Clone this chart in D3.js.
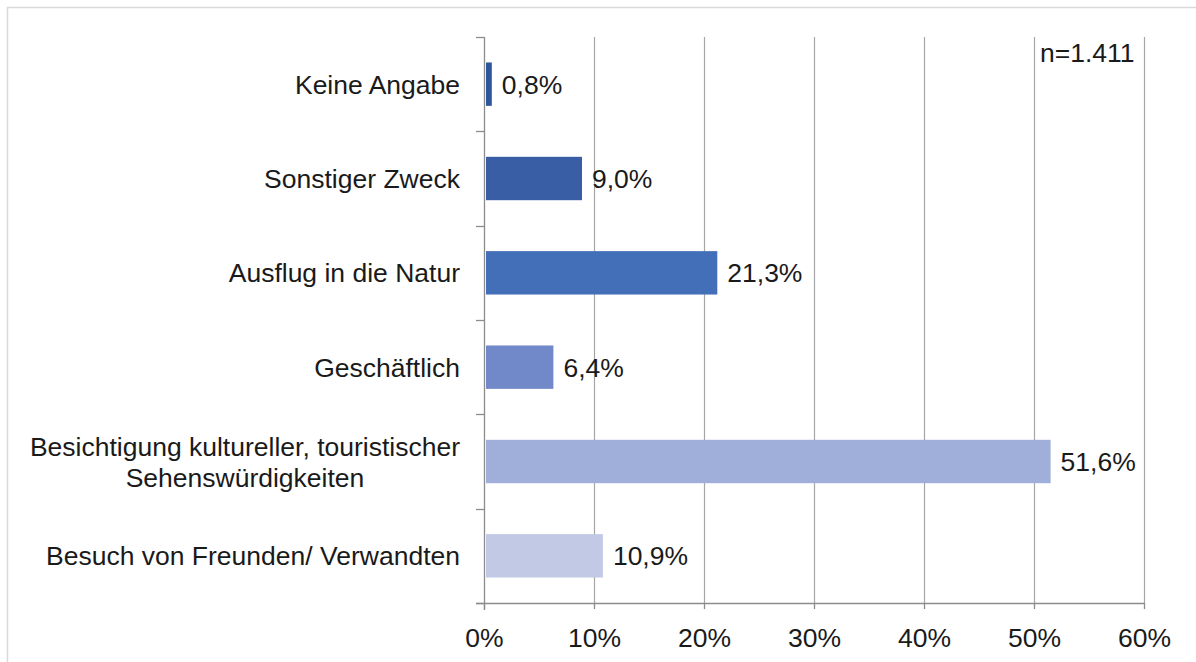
<!DOCTYPE html>
<html>
<head>
<meta charset="utf-8">
<script src="https://cdn.jsdelivr.net/npm/d3@7"></script>
<style>
  body { margin: 0; background: #fff; }
  text { font-family: "Liberation Sans", Arial, sans-serif; fill: #1a1a1a; }
</style>
</head>
<body>
<div id="chart"></div>
<script>
// categories, top to bottom
var categories = [
  ["Keine Angabe"],
  ["Sonstiger Zweck"],
  ["Ausflug in die Natur"],
  ["Geschäftlich"],
  ["Besichtigung kultureller, touristischer", "Sehenswürdigkeiten"],
  ["Besuch von Freunden/ Verwandten"]
];
var values = [0.8, 9.0, 21.3, 6.4, 51.6, 10.9];
var valueLabels = ["0,8%", "9,0%", "21,3%", "6,4%", "51,6%", "10,9%"];
var barColors = ["#2f559b", "#3a5ea6", "#426fb7", "#7189c8", "#a0afd9", "#c2c9e5"];
var xTicks = [0, 10, 20, 30, 40, 50, 60];
var note = "n=1.411";

var fontSize = "26.5px";
var svgWidth = 1196, svgHeight = 662;
var margin = { top: 37, right: 52, bottom: 59, left: 484 };
var chartWidth = svgWidth - margin.left - margin.right;
var chartHeight = svgHeight - margin.top - margin.bottom;

var svg = d3.select("#chart").append("svg")
  .attr("width", svgWidth)
  .attr("height", svgHeight);

// outer frame
svg.append("path")
  .attr("d", "M7.5,662 V7.5 H1196")
  .attr("fill", "none")
  .attr("stroke", "#d9d9d9")
  .attr("stroke-width", 1.5);

var chartGroup = svg.append("g")
  .attr("transform", `translate(${margin.left}, ${margin.top})`);

var x = d3.scaleLinear().domain([0, 60]).range([0, chartWidth]);
var y = d3.scaleBand().domain(d3.range(categories.length)).range([0, chartHeight]).paddingInner(0.54).paddingOuter(0.27);
var yEdge = d3.scaleLinear().domain([0, categories.length]).range([0, chartHeight]);

// vertical gridlines
chartGroup.selectAll(".grid")
  .data(xTicks.slice(1))
  .enter().append("line")
  .attr("x1", d => Math.round(x(d)) + 0.5)
  .attr("x2", d => Math.round(x(d)) + 0.5)
  .attr("y1", 0)
  .attr("y2", chartHeight)
  .attr("stroke", "#a6a6a6")
  .attr("stroke-width", 1.2);

// bars
chartGroup.selectAll(".bar")
  .data(values)
  .enter().append("rect")
  .attr("x", 2)
  .attr("y", (d, i) => y(i))
  .attr("width", d => x(d) - 3)
  .attr("height", y.bandwidth())
  .attr("fill", (d, i) => barColors[i]);

// value labels
chartGroup.selectAll(".vlabel")
  .data(values)
  .enter().append("text")
  .attr("x", d => x(d) + 9)
  .attr("y", (d, i) => y(i) + y.bandwidth() / 2)
  .attr("dy", "0.36em")
  .style("font-size", fontSize)
  .text((d, i) => valueLabels[i]);

// y axis line and ticks
chartGroup.append("line")
  .attr("x1", 0.5).attr("x2", 0.5)
  .attr("y1", 0).attr("y2", chartHeight + 7)
  .attr("stroke", "#8c8c8c").attr("stroke-width", 1.3);

chartGroup.selectAll(".ytick")
  .data(d3.range(categories.length + 1))
  .enter().append("line")
  .attr("x1", -8).attr("x2", 0)
  .attr("y1", d => Math.round(yEdge(d)) + 0.5)
  .attr("y2", d => Math.round(yEdge(d)) + 0.5)
  .attr("stroke", "#8c8c8c").attr("stroke-width", 1.3);

// x axis
var bottomAxis = d3.axisBottom(x)
  .tickValues(xTicks)
  .tickSize(6)
  .tickPadding(19)
  .tickFormat(d => d + "%");

var xAxisGroup = chartGroup.append("g")
  .attr("transform", `translate(0, ${chartHeight})`)
  .call(bottomAxis);

xAxisGroup.select(".domain").remove();
xAxisGroup.selectAll(".tick line").attr("stroke", "#8c8c8c").attr("stroke-width", 1.3);
xAxisGroup.selectAll(".tick text")
  .style("font-size", fontSize)
  .style("font-family", "'Liberation Sans', Arial, sans-serif")
  .attr("fill", "#1a1a1a");

xAxisGroup.append("line")
  .attr("x1", -8).attr("x2", chartWidth)
  .attr("y1", 0.5).attr("y2", 0.5)
  .attr("stroke", "#8c8c8c").attr("stroke-width", 1.3);

// category labels (multi-line blocks centred, block right-aligned)
var labelGroups = chartGroup.selectAll(".clabel")
  .data(categories)
  .enter().append("text")
  .style("font-size", fontSize)
  .attr("y", (d, i) => y(i) + y.bandwidth() / 2);

labelGroups.each(function(lines, i) {
  var t = d3.select(this);
  var lineHeight = 31;
  var startY = y(i) + y.bandwidth() / 2 - (lines.length - 1) * lineHeight / 2;
  lines.forEach(function(line, k) {
    t.append("tspan")
      .attr("y", startY + k * lineHeight)
      .attr("dy", "0.36em")
      .text(line);
  });
});

// align: measure widest line, centre lines within block ending at -24
labelGroups.each(function() {
  var t = d3.select(this);
  var spans = t.selectAll("tspan").nodes();
  var maxW = d3.max(spans, s => s.getComputedTextLength());
  var centre = -24 - maxW / 2;
  spans.forEach(function(s) {
    d3.select(s).attr("x", centre).attr("text-anchor", "middle");
  });
});

// sample size note
chartGroup.append("text")
  .attr("x", x(50) + 6)
  .attr("y", 15)
  .attr("dy", "0.36em")
  .style("font-size", fontSize)
  .text(note);
</script>
</body>
</html>
